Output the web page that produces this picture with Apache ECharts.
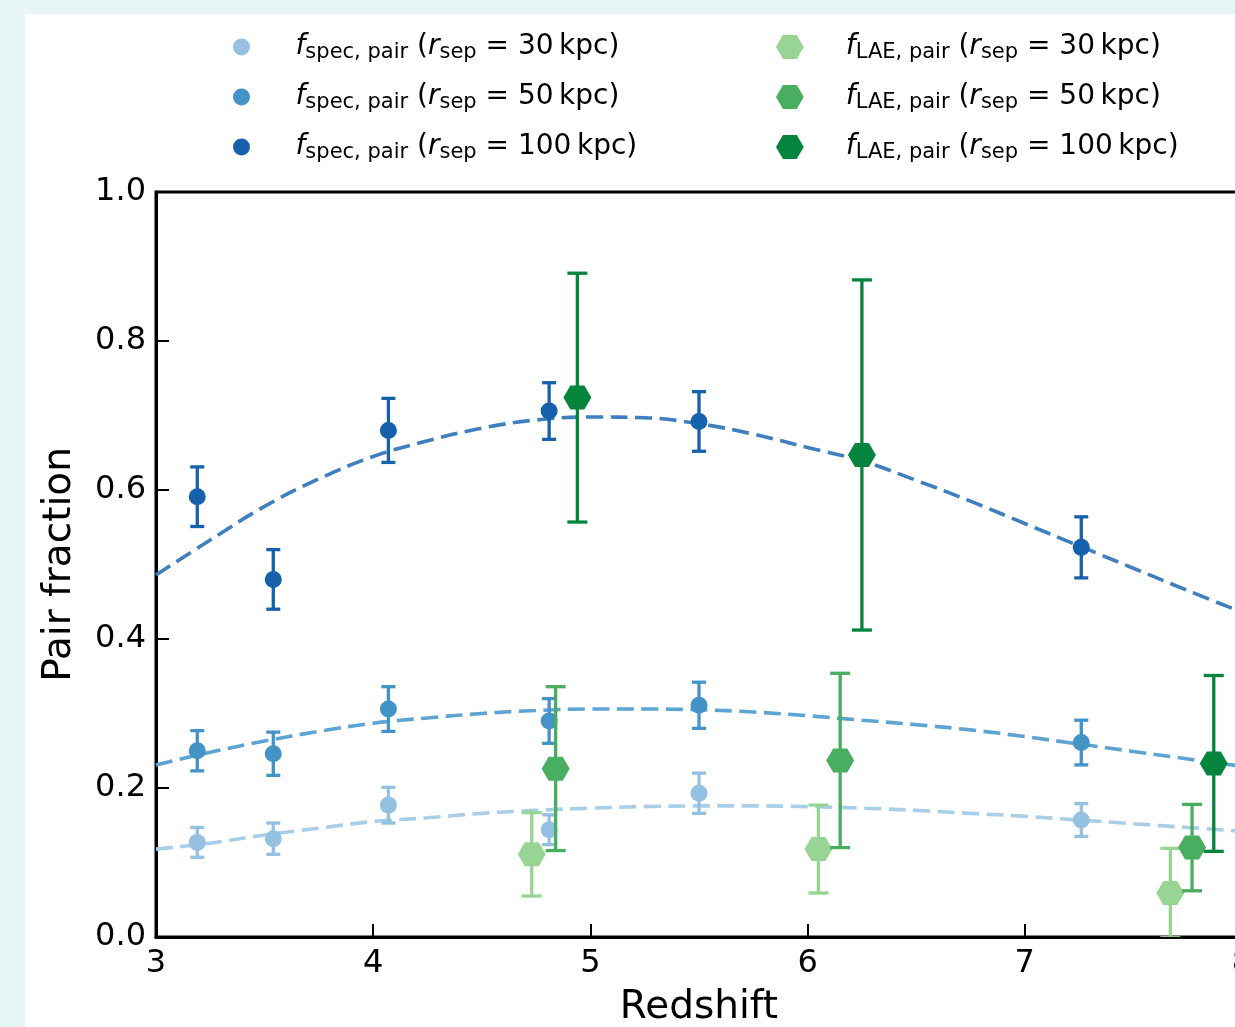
<!DOCTYPE html>
<html>
<head>
<meta charset="utf-8">
<script src="https://cdn.jsdelivr.net/npm/echarts/dist/echarts.min.js"></script>
<style>
  html, body { margin: 0; padding: 0; width: 1235px; height: 1027px; overflow: hidden; background: #e8f5f5; }
  #chart { position: absolute; left: 25px; top: 14px; width: 1210px; height: 1013px; background: #ffffff; }
</style>
</head>
<body>
<div id="chart"></div>
<script>
// Spectroscopic pair fractions (circles) at three separations
const specZ = [3.19, 3.54, 4.07, 4.81, 5.50, 7.26];
const spec30 = [0.127, 0.132, 0.177, 0.144, 0.193, 0.157];
const spec30Err = [0.020, 0.021, 0.024, 0.020, 0.027, 0.022];
const spec50 = [0.250, 0.246, 0.306, 0.290, 0.311, 0.261];
const spec50Err = [0.027, 0.029, 0.030, 0.030, 0.031, 0.030];
const spec100 = [0.591, 0.480, 0.680, 0.706, 0.692, 0.523];
const spec100Err = [0.040, 0.040, 0.043, 0.038, 0.040, 0.041];

// LAE pair fractions (hexagons)
const lae30Z = [4.73, 6.05, 7.67];
const lae30 = [0.111, 0.118, 0.059];
const lae30Err = [0.056, 0.059, 0.060];
const lae50Z = [4.84, 6.15, 7.77];
const lae50 = [0.226, 0.237, 0.120];
const lae50Err = [0.110, 0.117, 0.058];
const lae100Z = [4.94, 6.25, 7.87];
const lae100 = [0.724, 0.647, 0.233];
const lae100Err = [0.167, 0.235, 0.118];

// Best-fit curves (dashed)
const fitZ = [3.0, 3.25, 3.5, 3.75, 4.0, 4.25, 4.5, 4.75, 5.0, 5.25, 5.5, 5.75, 6.0, 6.25, 6.5, 6.75, 7.0, 7.25, 7.5, 7.75, 8.0];
const fit30 = [0.118, 0.126, 0.137, 0.146, 0.155, 0.160, 0.166, 0.170, 0.173, 0.175, 0.176, 0.176, 0.175, 0.173, 0.170, 0.166, 0.162, 0.157, 0.152, 0.147, 0.142];
const fit50 = [0.231, 0.248, 0.263, 0.276, 0.287, 0.294, 0.300, 0.304, 0.306, 0.306, 0.305, 0.302, 0.297, 0.291, 0.285, 0.278, 0.269, 0.259, 0.249, 0.239, 0.229];
const fit100 = [0.486, 0.533, 0.578, 0.615, 0.645, 0.666, 0.683, 0.694, 0.698, 0.697, 0.689, 0.675, 0.657, 0.639, 0.613, 0.585, 0.555, 0.525, 0.495, 0.465, 0.436];

// Legend entries
const legendSpec = [
  { name: 'spec30', sub: 'spec, pair', sep: '30' },
  { name: 'spec50', sub: 'spec, pair', sep: '50' },
  { name: 'spec100', sub: 'spec, pair', sep: '100' }
];
const legendLAE = [
  { name: 'lae30', sub: 'LAE, pair', sep: '30' },
  { name: 'lae50', sub: 'LAE, pair', sep: '50' },
  { name: 'lae100', sub: 'LAE, pair', sep: '100' }
];

const colors = {
  spec30: '#94c1e1', spec50: '#4393c7', spec100: '#1561ab',
  lae30: '#98d594', lae50: '#4aae61', lae100: '#04843c',
  fit30: '#a8cfe7', fit50: '#5da4d3', fit100: '#3f7fbf'
};

const FONT = 'DejaVu Sans';
const HEX = 'path://M0 43.3L25 0L75 0L100 43.3L75 86.6L25 86.6Z';

function pairs(xs, ys) { return xs.map((x, i) => [x, ys[i]]); }
function bars(xs, ys, es) { return xs.map((x, i) => [x, ys[i] - es[i], ys[i] + es[i]]); }

function errorBars(capW) {
  return function (params, api) {
    const x = api.value(0);
    const top = api.coord([x, api.value(2)]);
    const bot = api.coord([x, api.value(1)]);
    const style = { stroke: api.visual('color'), lineWidth: 3.3, fill: null };
    return {
      type: 'group',
      children: [
        { type: 'line', shape: { x1: top[0], y1: top[1], x2: bot[0], y2: bot[1] }, style: style },
        { type: 'line', shape: { x1: top[0] - capW / 2, y1: top[1], x2: top[0] + capW / 2, y2: top[1] }, style: style },
        { type: 'line', shape: { x1: bot[0] - capW / 2, y1: bot[1], x2: bot[0] + capW / 2, y2: bot[1] }, style: style }
      ]
    };
  };
}

function fitLine(name, ys, color) {
  return {
    name: name, type: 'line', data: pairs(fitZ, ys), showSymbol: false, symbol: 'none',
    smooth: 0.4, z: 1, silent: true,
    lineStyle: { color: color, width: 3.6, type: [17, 7.5] }
  };
}

function errSeries(name, xs, ys, es, color, capW, z) {
  return {
    name: name + '_err', type: 'custom', data: bars(xs, ys, es), renderItem: errorBars(capW),
    itemStyle: { color: color }, clip: true, z: z, silent: true,
    encode: { x: 0, y: [1, 2] }
  };
}

function pointSeries(name, xs, ys, color, symbol, size, z) {
  return {
    name: name, type: 'scatter', data: pairs(xs, ys), symbol: symbol, symbolSize: size,
    itemStyle: { color: color, opacity: 1 }, z: z, silent: true
  };
}

const rich = {
  f: { fontFamily: FONT, fontStyle: 'italic', fontSize: 28, lineHeight: 40, color: '#000' },
  s: { fontFamily: FONT, fontSize: 21, lineHeight: 40, padding: [12, 0, 0, 0], color: '#000' },
  t: { fontFamily: FONT, fontSize: 28, lineHeight: 40, color: '#000' }
};

function legendFor(entry, left, top, itemW, itemH) {
  return {
    data: [entry.name], left: left, top: top, orient: 'vertical', padding: 0,
    itemWidth: itemW, itemHeight: itemH, selectedMode: false,
    formatter: function () {
      return '{f|f}{s|' + entry.sub + '}{t| (}{f|r}{s|sep}{t| = ' + entry.sep + '\u2009kpc)}';
    },
    textStyle: { fontFamily: FONT, fontSize: 28, lineHeight: 40, color: '#000', rich: rich }
  };
}

const rowTops = [13, 63, 113];
const legends = [];
legendSpec.forEach((e, i) => legends.push(legendFor(e, 208, rowTops[i], 98, 17)));
legendLAE.forEach((e, i) => legends.push(legendFor(e, 751, rowTops[i], 102, 24)));

const chart = echarts.init(document.getElementById('chart'), null, { renderer: 'canvas' });
chart.setOption({
  animation: false,
  backgroundColor: '#ffffff',
  legend: legends,
  grid: {
    left: 131, top: 178, width: 1086, height: 745,
    show: true, borderColor: '#000', borderWidth: 3, backgroundColor: 'transparent',
    containLabel: false, outerBoundsMode: 'none'
  },
  xAxis: {
    type: 'value', min: 3, max: 8, interval: 1,
    name: 'Redshift', nameLocation: 'middle', nameGap: 51,
    nameTextStyle: { fontFamily: FONT, fontSize: 39, color: '#000' },
    axisLine: { show: true, onZero: false, lineStyle: { color: '#000', width: 3 } },
    axisTick: { show: true, inside: true, length: 13, lineStyle: { color: '#000', width: 2 } },
    axisLabel: { show: true, margin: 11, fontFamily: FONT, fontSize: 32, color: '#000', showMinLabel: true, showMaxLabel: true },
    splitLine: { show: false }
  },
  yAxis: {
    type: 'value', min: 0, max: 1, interval: 0.2,
    name: 'Pair fraction', nameLocation: 'middle', nameGap: 77, nameRotate: 90,
    nameTextStyle: { fontFamily: FONT, fontSize: 39, color: '#000' },
    axisLine: { show: true, onZero: false, lineStyle: { color: '#000', width: 3 } },
    axisTick: { show: true, inside: true, length: 13, lineStyle: { color: '#000', width: 2 } },
    axisLabel: {
      show: true, margin: 10, fontFamily: FONT, fontSize: 32, color: '#000',
      formatter: v => v.toFixed(1), showMinLabel: true, showMaxLabel: true
    },
    splitLine: { show: false }
  },
  series: [
    fitLine('fit30', fit30, colors.fit30),
    fitLine('fit50', fit50, colors.fit50),
    fitLine('fit100', fit100, colors.fit100),
    errSeries('spec30', specZ, spec30, spec30Err, colors.spec30, 14, 2),
    pointSeries('spec30', specZ, spec30, colors.spec30, 'circle', 17, 3),
    errSeries('spec50', specZ, spec50, spec50Err, colors.spec50, 14, 4),
    pointSeries('spec50', specZ, spec50, colors.spec50, 'circle', 17, 5),
    errSeries('spec100', specZ, spec100, spec100Err, colors.spec100, 14, 6),
    pointSeries('spec100', specZ, spec100, colors.spec100, 'circle', 17, 7),
    errSeries('lae30', lae30Z, lae30, lae30Err, colors.lae30, 20, 8),
    pointSeries('lae30', lae30Z, lae30, colors.lae30, HEX, [28, 24], 9),
    errSeries('lae50', lae50Z, lae50, lae50Err, colors.lae50, 20, 10),
    pointSeries('lae50', lae50Z, lae50, colors.lae50, HEX, [28, 24], 11),
    errSeries('lae100', lae100Z, lae100, lae100Err, colors.lae100, 20, 12),
    pointSeries('lae100', lae100Z, lae100, colors.lae100, HEX, [28, 24], 13)
  ]
});
</script>
</body>
</html>
